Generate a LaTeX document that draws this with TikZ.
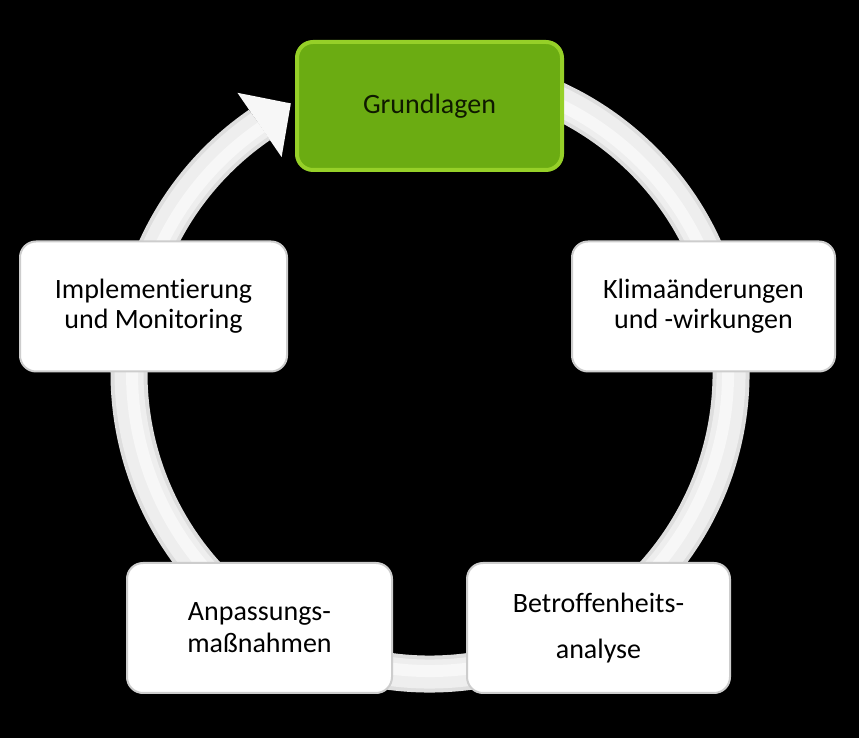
\documentclass[tikz,border=0pt]{standalone}
\usepackage{fontspec}
\setmainfont{Carlito}[RawFeature={-liga;-clig;-calt;-dlig}]
\usetikzlibrary{calc}
\definecolor{ringout}{RGB}{222,222,222}
\definecolor{ringmid}{RGB}{238,238,238}
\definecolor{ringin}{RGB}{247,247,247}
\definecolor{boxedge}{RGB}{205,205,205}
\definecolor{gfill}{RGB}{107,172,18}
\definecolor{gedge}{RGB}{150,208,40}
\definecolor{gtext}{RGB}{15,25,0}
\begin{document}
\begin{tikzpicture}[x=1pt,y=1pt,
  ringband/.style={line width=#1},
  box/.style={rounded corners=16pt, minimum width=263pt, minimum height=130pt,
    fill=white, draw=boxedge, line width=2pt, align=center, inner sep=0pt,
    text=black, font=\fontsize{28}{30}\selectfont},
  greenbox/.style={box, fill=gfill, draw=gedge, line width=4pt, text=gtext}]
\fill[black] (0,0) rectangle (859,738);
\useasboundingbox (0,0) rectangle (859,738);
\coordinate (c) at (430,365);
% ring (clockwise, ending in an arrow head pointing at Grundlagen)
\draw[ringband=37pt, draw=ringout] (c) ++(100:301) arc[start angle=100, end angle=-235.5, radius=301];
\draw[ringband=29pt, draw=ringmid] (c) ++(100:301) arc[start angle=100, end angle=-235.5, radius=301];
\draw[ringband=12pt, draw=ringin] (c) ++(100:298) arc[start angle=100, end angle=-235.5, radius=298];
\coordinate (h1) at ($(c)+(124.5:340)$);
\coordinate (h2) at ($(c)+(124.5:262)$);
\coordinate (tip) at ($(c)+(124.5:301)+(34.5:38)$);
\fill[ringin] (h1) -- (tip) -- (h2) -- cycle;
% boxes
\node[greenbox, minimum width=265pt, minimum height=128pt] (g) at (429.5,632) {Grundlagen};
\node[box] (k) at (703.5,431.5) {Klimaänderungen\\und -wirkungen};
\node[box] (b) at (598.5,110) {Betroffenheits-\\[16pt]analyse};
\node[box, minimum width=265pt] (a) at (259.5,110) {Anpassungs-\\[2pt]maßnahmen};
\node[box, minimum width=267pt] (i) at (153.5,431.5) {Implement\kern0pt ierung\\und Monitoring};
\end{tikzpicture}
\end{document}
